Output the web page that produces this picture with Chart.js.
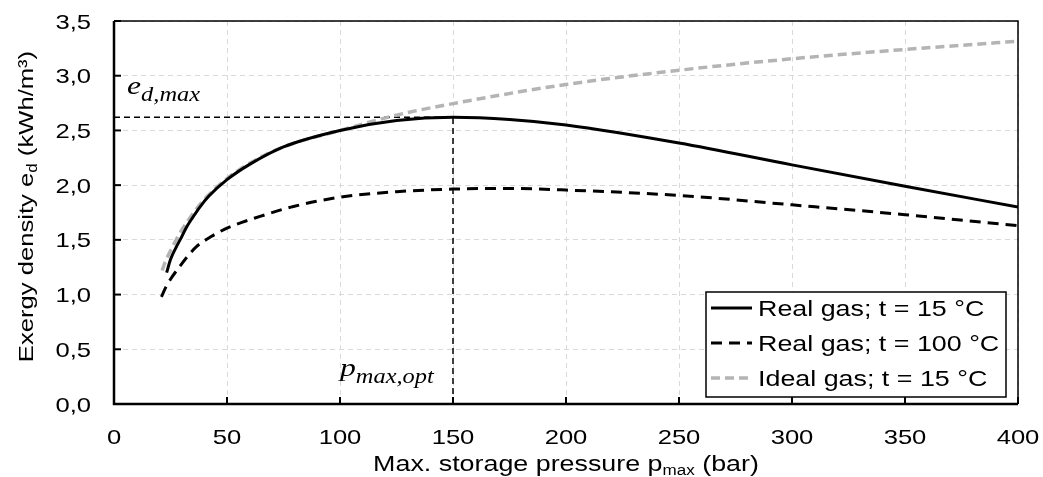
<!DOCTYPE html>
<html>
<head>
<meta charset="utf-8">
<script src="https://cdn.jsdelivr.net/npm/chart.js@4"></script>
<style>
  html, body { margin: 0; padding: 0; background: #fff; }
  #wrap { width: 1043px; height: 477px; }
</style>
</head>
<body>
<div id="wrap"><canvas id="chart" width="1043" height="477"></canvas></div>
<script>
// tick labels (decimal comma, as in the original)
const xTickLabels = ['0', '50', '100', '150', '200', '250', '300', '350', '400'];
const yTickLabels = ['0,0', '0,5', '1,0', '1,5', '2,0', '2,5', '3,0', '3,5'];

// Real gas, t = 15 °C
const real15P = [23.3, 25, 27.7, 30, 32.2, 35, 38, 42, 50, 60, 75, 100, 125, 150, 175, 200, 250, 300, 350, 400];
const real15E = [1.2, 1.32, 1.44, 1.53, 1.62, 1.71, 1.8, 1.9, 2.05, 2.19, 2.35, 2.5, 2.59, 2.62, 2.6, 2.55, 2.385, 2.185, 1.99, 1.8];

// Real gas, t = 100 °C
const real100P = [21, 23, 25, 29.2, 33, 36.6, 43, 50, 64.6, 79.4, 100, 125, 150, 173, 200, 250, 300, 350, 400];
const real100E = [0.98, 1.07, 1.14, 1.26, 1.36, 1.44, 1.53, 1.607, 1.714, 1.805, 1.89, 1.94, 1.964, 1.97, 1.955, 1.906, 1.82, 1.73, 1.63];

// Ideal gas, t = 15 °C
const idealP = [21.3, 22.5, 25, 30, 35, 40, 50, 60, 75, 100, 125, 150, 200, 250, 300, 350, 400];
const idealE = [1.22, 1.29, 1.4, 1.59, 1.74, 1.87, 2.06, 2.2, 2.35, 2.5, 2.64, 2.745, 2.92, 3.05, 3.155, 3.24, 3.315];

const seriesNames = ['Real gas; t = 15 °C', 'Real gas; t = 100 °C', 'Ideal gas; t = 15 °C'];

// optimum marker
const pOpt = 150;
const eMax = 2.62;

const toPoints = (xs, ys) => xs.map((v, i) => ({ x: v, y: ys[i] }));

const SX = 1.22; // the original text is a bit wider than Arial
const SANS = '"Liberation Sans", Arial, sans-serif';
const SERIF = '"Liberation Serif", "Times New Roman", serif';

function textRuns(ctx, runs, x, y, align) {
  let total = 0;
  runs.forEach((r) => {
    ctx.font = r.font;
    r.w = ctx.measureText(r.t).width * SX;
    total += r.w;
  });
  let cx = align === 'center' ? x - total / 2 : align === 'right' ? x - total : x;
  runs.forEach((r) => {
    ctx.save();
    ctx.font = r.font;
    ctx.textAlign = 'left';
    ctx.textBaseline = 'alphabetic';
    ctx.translate(cx, y + (r.dy || 0));
    ctx.scale(SX, 1);
    ctx.fillText(r.t, 0, 0);
    ctx.restore();
    cx += r.w;
  });
}

const decor = {
  id: 'decor',
  afterDraw(chart) {
    const { ctx, chartArea: ca, scales } = chart;
    const xs = scales.x;
    const ys = scales.y;
    ctx.save();

    // legend box
    const lx = 706, lt = 292, lr = 1006, lb = 397;
    ctx.fillStyle = '#fff';
    ctx.fillRect(lx, lt, lr - lx, lb - lt);
    ctx.strokeStyle = '#000';
    ctx.lineWidth = 1.5;
    ctx.setLineDash([]);
    ctx.strokeRect(lx, lt, lr - lx, lb - lt);
    seriesNames.forEach((name, i) => {
      const ds = chart.data.datasets[i];
      const cy = 308 + i * 35;
      ctx.save();
      ctx.strokeStyle = ds.borderColor;
      ctx.lineWidth = ds.borderWidth;
      ctx.setLineDash(ds.borderDash || []);
      ctx.beginPath();
      ctx.moveTo(711, cy);
      ctx.lineTo(752, cy);
      ctx.stroke();
      ctx.restore();
      ctx.fillStyle = '#000';
      textRuns(ctx, [{ t: name, font: '22px ' + SANS }], 758, cy + 8, 'left');
    });

    // frame
    ctx.strokeStyle = '#000';
    ctx.setLineDash([]);
    ctx.lineWidth = 1.5;
    ctx.beginPath();
    ctx.moveTo(ca.left, ca.top);
    ctx.lineTo(ca.right, ca.top);
    ctx.lineTo(ca.right, ca.bottom);
    ctx.stroke();
    ctx.lineWidth = 2.5;
    ctx.beginPath();
    ctx.moveTo(ca.left, ca.top);
    ctx.lineTo(ca.left, ca.bottom);
    ctx.lineTo(ca.right, ca.bottom);
    ctx.stroke();

    // inner ticks and tick labels
    ctx.lineWidth = 2;
    ctx.fillStyle = '#000';
    xs.ticks.forEach((t, i) => {
      const px = xs.getPixelForValue(t.value);
      ctx.beginPath();
      ctx.moveTo(px, ca.bottom);
      ctx.lineTo(px, ca.bottom - 7);
      ctx.stroke();
      textRuns(ctx, [{ t: xTickLabels[i], font: '21px ' + SANS }], px, ca.bottom + 40, 'center');
    });
    ys.ticks.forEach((t, i) => {
      const py = ys.getPixelForValue(t.value);
      ctx.beginPath();
      ctx.moveTo(ca.left, py);
      ctx.lineTo(ca.left + 7, py);
      ctx.stroke();
      textRuns(ctx, [{ t: yTickLabels[i], font: '21px ' + SANS }], 91, py + 7.5, 'right');
    });

    // axis titles
    textRuns(ctx, [
      { t: 'Max. storage pressure p', font: '22px ' + SANS },
      { t: 'max', font: '14px ' + SANS, dy: 4 },
      { t: ' (bar)', font: '22px ' + SANS }
    ], (ca.left + ca.right) / 2, 471, 'center');

    ctx.save();
    ctx.translate(33, (ca.top + ca.bottom) / 2 - 6);
    ctx.rotate(-Math.PI / 2);
    textRuns(ctx, [
      { t: 'Exergy density e', font: '21px ' + SANS },
      { t: 'd', font: '14px ' + SANS, dy: 4 },
      { t: ' (kWh/m³)', font: '21px ' + SANS }
    ], 0, 0, 'center');
    ctx.restore();

    // math labels
    textRuns(ctx, [
      { t: 'e', font: 'italic 26px ' + SERIF },
      { t: 'd,max', font: 'italic 20px ' + SERIF, dy: 7 }
    ], ca.left + 13, ys.getPixelForValue(eMax) - 23, 'left');
    textRuns(ctx, [
      { t: 'p', font: 'italic 26px ' + SERIF },
      { t: 'max,opt', font: 'italic 20px ' + SERIF, dy: 7 }
    ], xs.getPixelForValue(pOpt) - 113, ca.bottom - 28, 'left');

    ctx.restore();
  }
};

new Chart(document.getElementById('chart'), {
  type: 'line',
  data: {
    datasets: [
      {
        label: seriesNames[0],
        data: toPoints(real15P, real15E),
        borderColor: '#000000',
        borderWidth: 3,
        cubicInterpolationMode: 'monotone',
        pointRadius: 0,
      },
      {
        label: seriesNames[1],
        data: toPoints(real100P, real100E),
        borderColor: '#000000',
        borderWidth: 3,
        borderDash: [11, 7],
        cubicInterpolationMode: 'monotone',
        pointRadius: 0,
      },
      {
        label: seriesNames[2],
        data: toPoints(idealP, idealE),
        borderColor: '#b4b4b4',
        borderWidth: 3.5,
        borderDash: [9, 5],
        cubicInterpolationMode: 'monotone',
        pointRadius: 0,
      },
      {
        label: 'eMax',
        data: [{ x: 0, y: eMax }, { x: pOpt, y: eMax }],
        borderColor: '#000000',
        borderWidth: 1.5,
        borderDash: [6, 4],
        pointRadius: 0,
      },
      {
        label: 'pOpt',
        data: [{ x: pOpt, y: 0 }, { x: pOpt, y: eMax }],
        borderColor: '#000000',
        borderWidth: 1.5,
        borderDash: [6, 4],
        pointRadius: 0,
      },
    ],
  },
  options: {
    responsive: false,
    animation: false,
    devicePixelRatio: 1,
    layout: { padding: { left: 104, right: 25, top: 21, bottom: 63 } },
    scales: {
      x: {
        type: 'linear',
        min: 0,
        max: 400,
        ticks: { stepSize: 50, display: false },
        grid: { color: '#d9d9d9', lineWidth: 1, drawTicks: false },
        border: { display: false, dash: [5, 4] },
        afterFit: (s) => { s.height = 10; },
      },
      y: {
        min: 0,
        max: 3.5,
        ticks: { stepSize: 0.5, display: false },
        grid: { color: '#d9d9d9', lineWidth: 1, drawTicks: false },
        border: { display: false, dash: [5, 4] },
        afterFit: (s) => { s.width = 10; },
      },
    },
    plugins: {
      legend: { display: false },
      tooltip: { enabled: false },
    },
  },
  plugins: [decor],
});
</script>
</body>
</html>
